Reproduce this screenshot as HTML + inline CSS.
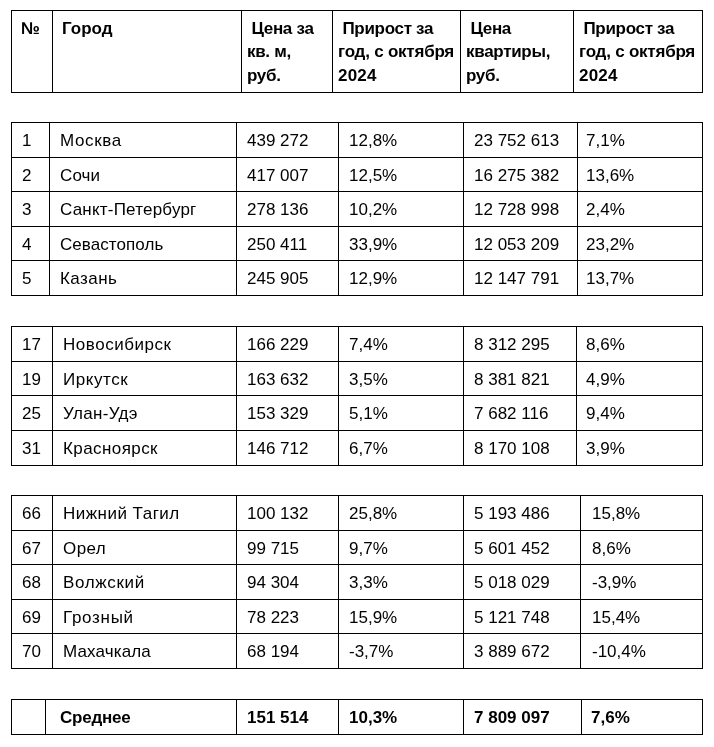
<!DOCTYPE html>
<html><head><meta charset="utf-8"><style>
html,body{margin:0;padding:0;background:#fff;width:714px;height:747px;overflow:hidden;position:relative}
.l{position:absolute;background:#000}
.t{position:absolute;font-family:"Liberation Sans",sans-serif;font-size:17px;line-height:20px;color:#000;white-space:pre;will-change:transform}
.b{font-weight:bold}
.c{letter-spacing:0.5px}
.h.n{letter-spacing:0}
.h{font-weight:bold;letter-spacing:-0.3px}
</style></head><body>

<div class="l" style="left:11px;top:10px;width:692px;height:1px"></div>
<div class="l" style="left:11px;top:92px;width:692px;height:1px"></div>
<div class="l" style="left:11px;top:10px;width:1px;height:83px"></div>
<div class="l" style="left:52px;top:10px;width:1px;height:83px"></div>
<div class="l" style="left:241px;top:10px;width:1px;height:83px"></div>
<div class="l" style="left:332px;top:10px;width:1px;height:83px"></div>
<div class="l" style="left:460px;top:10px;width:1px;height:83px"></div>
<div class="l" style="left:573px;top:10px;width:1px;height:83px"></div>
<div class="l" style="left:702px;top:10px;width:1px;height:83px"></div>
<div class="l" style="left:11px;top:122px;width:692px;height:1px"></div>
<div class="l" style="left:11px;top:157px;width:692px;height:1px"></div>
<div class="l" style="left:11px;top:191px;width:692px;height:1px"></div>
<div class="l" style="left:11px;top:226px;width:692px;height:1px"></div>
<div class="l" style="left:11px;top:260px;width:692px;height:1px"></div>
<div class="l" style="left:11px;top:295px;width:692px;height:1px"></div>
<div class="l" style="left:11px;top:122px;width:1px;height:174px"></div>
<div class="l" style="left:49px;top:122px;width:1px;height:174px"></div>
<div class="l" style="left:236px;top:122px;width:1px;height:174px"></div>
<div class="l" style="left:338px;top:122px;width:1px;height:174px"></div>
<div class="l" style="left:463px;top:122px;width:1px;height:174px"></div>
<div class="l" style="left:577px;top:122px;width:1px;height:174px"></div>
<div class="l" style="left:702px;top:122px;width:1px;height:174px"></div>
<div class="l" style="left:11px;top:326px;width:692px;height:1px"></div>
<div class="l" style="left:11px;top:361px;width:692px;height:1px"></div>
<div class="l" style="left:11px;top:395px;width:692px;height:1px"></div>
<div class="l" style="left:11px;top:430px;width:692px;height:1px"></div>
<div class="l" style="left:11px;top:465px;width:692px;height:1px"></div>
<div class="l" style="left:11px;top:326px;width:1px;height:140px"></div>
<div class="l" style="left:52px;top:326px;width:1px;height:140px"></div>
<div class="l" style="left:236px;top:326px;width:1px;height:140px"></div>
<div class="l" style="left:338px;top:326px;width:1px;height:140px"></div>
<div class="l" style="left:463px;top:326px;width:1px;height:140px"></div>
<div class="l" style="left:576px;top:326px;width:1px;height:140px"></div>
<div class="l" style="left:702px;top:326px;width:1px;height:140px"></div>
<div class="l" style="left:11px;top:495px;width:692px;height:1px"></div>
<div class="l" style="left:11px;top:530px;width:692px;height:1px"></div>
<div class="l" style="left:11px;top:564px;width:692px;height:1px"></div>
<div class="l" style="left:11px;top:599px;width:692px;height:1px"></div>
<div class="l" style="left:11px;top:633px;width:692px;height:1px"></div>
<div class="l" style="left:11px;top:668px;width:692px;height:1px"></div>
<div class="l" style="left:11px;top:495px;width:1px;height:174px"></div>
<div class="l" style="left:52px;top:495px;width:1px;height:174px"></div>
<div class="l" style="left:236px;top:495px;width:1px;height:174px"></div>
<div class="l" style="left:338px;top:495px;width:1px;height:174px"></div>
<div class="l" style="left:463px;top:495px;width:1px;height:174px"></div>
<div class="l" style="left:580px;top:495px;width:1px;height:174px"></div>
<div class="l" style="left:702px;top:495px;width:1px;height:174px"></div>
<div class="l" style="left:11px;top:699px;width:692px;height:1px"></div>
<div class="l" style="left:11px;top:734px;width:692px;height:1px"></div>
<div class="l" style="left:11px;top:699px;width:1px;height:36px"></div>
<div class="l" style="left:45px;top:699px;width:1px;height:36px"></div>
<div class="l" style="left:236px;top:699px;width:1px;height:36px"></div>
<div class="l" style="left:338px;top:699px;width:1px;height:36px"></div>
<div class="l" style="left:463px;top:699px;width:1px;height:36px"></div>
<div class="l" style="left:581px;top:699px;width:1px;height:36px"></div>
<div class="l" style="left:702px;top:699px;width:1px;height:36px"></div>
<div class="t" style="left:22px;top:131.0px">1</div>
<div class="t" style="left:59.6px;top:131.0px;letter-spacing:0.62px">Москва</div>
<div class="t" style="left:246.7px;top:131.0px">439 272</div>
<div class="t" style="left:348.5px;top:131.0px">12,8%</div>
<div class="t" style="left:473.6px;top:131.0px">23 752 613</div>
<div class="t" style="left:586.3px;top:131.0px">7,1%</div>
<div class="t" style="left:22px;top:165.5px">2</div>
<div class="t" style="left:59.6px;top:165.5px;letter-spacing:0.1px">Сочи</div>
<div class="t" style="left:246.7px;top:165.5px">417 007</div>
<div class="t" style="left:348.5px;top:165.5px">12,5%</div>
<div class="t" style="left:473.6px;top:165.5px">16 275 382</div>
<div class="t" style="left:586.3px;top:165.5px">13,6%</div>
<div class="t" style="left:22px;top:200.0px">3</div>
<div class="t" style="left:59.6px;top:200.0px;letter-spacing:0.21px">Санкт-Петербург</div>
<div class="t" style="left:246.7px;top:200.0px">278 136</div>
<div class="t" style="left:348.5px;top:200.0px">10,2%</div>
<div class="t" style="left:473.6px;top:200.0px">12 728 998</div>
<div class="t" style="left:586.3px;top:200.0px">2,4%</div>
<div class="t" style="left:22px;top:234.5px">4</div>
<div class="t" style="left:59.6px;top:234.5px;letter-spacing:0.06px">Севастополь</div>
<div class="t" style="left:246.7px;top:234.5px">250 411</div>
<div class="t" style="left:348.5px;top:234.5px">33,9%</div>
<div class="t" style="left:473.6px;top:234.5px">12 053 209</div>
<div class="t" style="left:586.3px;top:234.5px">23,2%</div>
<div class="t" style="left:22px;top:269.0px">5</div>
<div class="t" style="left:59.6px;top:269.0px;letter-spacing:0.44px">Казань</div>
<div class="t" style="left:246.7px;top:269.0px">245 905</div>
<div class="t" style="left:348.5px;top:269.0px">12,9%</div>
<div class="t" style="left:473.6px;top:269.0px">12 147 791</div>
<div class="t" style="left:586.3px;top:269.0px">13,7%</div>
<div class="t" style="left:22px;top:335.0px">17</div>
<div class="t" style="left:62.9px;top:335.0px;letter-spacing:0.53px">Новосибирск</div>
<div class="t" style="left:246.7px;top:335.0px">166 229</div>
<div class="t" style="left:348.5px;top:335.0px">7,4%</div>
<div class="t" style="left:473.6px;top:335.0px">8 312 295</div>
<div class="t" style="left:586.4px;top:335.0px">8,6%</div>
<div class="t" style="left:22px;top:369.5px">19</div>
<div class="t" style="left:62.9px;top:369.5px;letter-spacing:0.55px">Иркутск</div>
<div class="t" style="left:246.7px;top:369.5px">163 632</div>
<div class="t" style="left:348.5px;top:369.5px">3,5%</div>
<div class="t" style="left:473.6px;top:369.5px">8 381 821</div>
<div class="t" style="left:586.4px;top:369.5px">4,9%</div>
<div class="t" style="left:22px;top:404.0px">25</div>
<div class="t" style="left:62.9px;top:404.0px;letter-spacing:0.31px">Улан-Удэ</div>
<div class="t" style="left:246.7px;top:404.0px">153 329</div>
<div class="t" style="left:348.5px;top:404.0px">5,1%</div>
<div class="t" style="left:473.6px;top:404.0px">7 682 116</div>
<div class="t" style="left:586.4px;top:404.0px">9,4%</div>
<div class="t" style="left:22px;top:439.0px">31</div>
<div class="t" style="left:62.9px;top:439.0px;letter-spacing:0.42px">Красноярск</div>
<div class="t" style="left:246.7px;top:439.0px">146 712</div>
<div class="t" style="left:348.5px;top:439.0px">6,7%</div>
<div class="t" style="left:473.6px;top:439.0px">8 170 108</div>
<div class="t" style="left:586.4px;top:439.0px">3,9%</div>
<div class="t" style="left:22px;top:504.0px">66</div>
<div class="t" style="left:62.9px;top:504.0px;letter-spacing:0.48px">Нижний Тагил</div>
<div class="t" style="left:246.7px;top:504.0px">100 132</div>
<div class="t" style="left:349px;top:504.0px">25,8%</div>
<div class="t" style="left:473.6px;top:504.0px">5 193 486</div>
<div class="t" style="left:591.5px;top:504.0px">15,8%</div>
<div class="t" style="left:22px;top:538.5px">67</div>
<div class="t" style="left:62.9px;top:538.5px;letter-spacing:0.43px">Орел</div>
<div class="t" style="left:246.7px;top:538.5px">99 715</div>
<div class="t" style="left:349px;top:538.5px">9,7%</div>
<div class="t" style="left:473.6px;top:538.5px">5 601 452</div>
<div class="t" style="left:591.5px;top:538.5px">8,6%</div>
<div class="t" style="left:22px;top:573.0px">68</div>
<div class="t" style="left:62.9px;top:573.0px;letter-spacing:0.64px">Волжский</div>
<div class="t" style="left:246.7px;top:573.0px">94 304</div>
<div class="t" style="left:349px;top:573.0px">3,3%</div>
<div class="t" style="left:473.6px;top:573.0px">5 018 029</div>
<div class="t" style="left:591.5px;top:573.0px">-3,9%</div>
<div class="t" style="left:22px;top:607.5px">69</div>
<div class="t" style="left:62.9px;top:607.5px;letter-spacing:0.7px">Грозный</div>
<div class="t" style="left:246.7px;top:607.5px">78 223</div>
<div class="t" style="left:349px;top:607.5px">15,9%</div>
<div class="t" style="left:473.6px;top:607.5px">5 121 748</div>
<div class="t" style="left:591.5px;top:607.5px">15,4%</div>
<div class="t" style="left:22px;top:642.0px">70</div>
<div class="t" style="left:62.9px;top:642.0px;letter-spacing:0.14px">Махачкала</div>
<div class="t" style="left:246.7px;top:642.0px">68 194</div>
<div class="t" style="left:349px;top:642.0px">-3,7%</div>
<div class="t" style="left:473.6px;top:642.0px">3 889 672</div>
<div class="t" style="left:591.5px;top:642.0px">-10,4%</div>
<div class="t b" style="left:59.6px;top:708.0px;letter-spacing:-0.22px">Среднее</div>
<div class="t b" style="left:246.7px;top:708.0px">151 514</div>
<div class="t b" style="left:349px;top:708.0px">10,3%</div>
<div class="t b" style="left:473.6px;top:708.0px">7 809 097</div>
<div class="t b" style="left:591px;top:708.0px">7,6%</div>
<div class="t h n" style="left:21.2px;top:19.1px">№</div>
<div class="t h n" style="left:62.3px;top:19.1px">Город</div>
<div class="t h" style="left:246.7px;top:19.1px"> Цена за</div>
<div class="t h" style="left:246.7px;top:41.5px">кв. м,</div>
<div class="t h" style="left:246.7px;top:66.0px">руб.</div>
<div class="t h" style="left:337.5px;top:19.1px"> Прирост за</div>
<div class="t h" style="left:337.5px;top:41.5px;letter-spacing:-0.22px">год, с октября</div>
<div class="t h" style="left:337.5px;top:66.0px;letter-spacing:0.2px">2024</div>
<div class="t h" style="left:466px;top:19.1px"> Цена</div>
<div class="t h" style="left:466px;top:41.5px">квартиры,</div>
<div class="t h" style="left:466px;top:66.0px">руб.</div>
<div class="t h" style="left:579.4px;top:19.1px"> Прирост за</div>
<div class="t h" style="left:579.4px;top:41.5px;letter-spacing:-0.22px">год, с октября</div>
<div class="t h" style="left:579.4px;top:66.0px;letter-spacing:0.2px">2024</div>
</body></html>
